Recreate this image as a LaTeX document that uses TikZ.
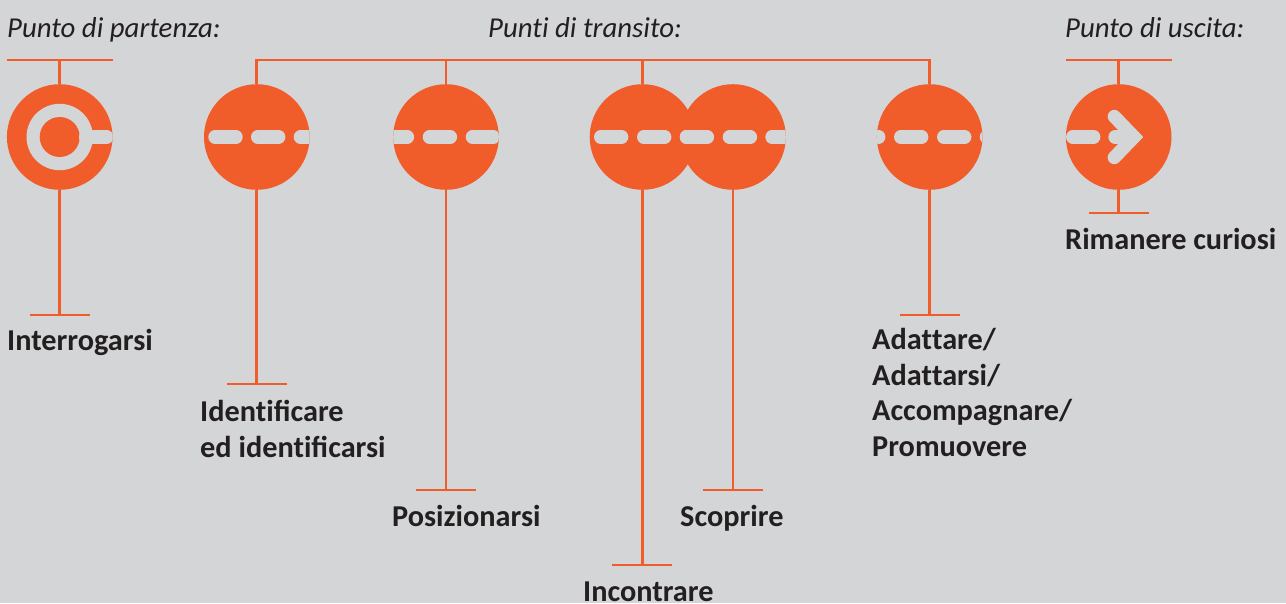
\documentclass[tikz,border=0pt]{standalone}
\usepackage{fontspec}
\setmainfont{Carlito}
\definecolor{bgc}{HTML}{D3D5D7}
\definecolor{org}{HTML}{F15D2A}
\definecolor{txt}{HTML}{231F20}
\newcommand{\nl}{\kern0pt }
\tikzset{
  disc/.style={circle,fill=org,minimum size=105.6pt,inner sep=0pt,outer sep=0pt},
  wire/.style={draw=org,line width=2.8pt},
  gap/.style={draw=bgc,line width=13.3pt,line cap=round},
  lab/.style={anchor=base west,inner sep=0pt,text=txt,font=\fontsize{30.3}{35.4}\selectfont\bfseries,align=left},
  head/.style={anchor=base west,inner sep=0pt,text=txt,font=\fontsize{28.8}{32}\selectfont\itshape}
}
\newcommand{\dashes}[2]{% node name, list of left ends
  \begin{scope}
    \clip (#1) circle (52.8pt);
    \foreach \x in {#2} \draw[gap] (\x+6.65,137) -- (\x+27.75,137);
  \end{scope}}
\begin{document}
\begin{tikzpicture}[x=1pt,y=-1pt]
\useasboundingbox (0,0) rectangle (1286,603);
\fill[bgc] (0,0) rectangle (1286,603);
% free ends
\coordinate (tA) at (59.7,60); \coordinate (bA) at (59.7,315);
\coordinate (tB) at (256.8,60); \coordinate (bB) at (256.8,384);
\coordinate (tC) at (446,60); \coordinate (bC) at (446,490);
\coordinate (tD) at (642.5,60); \coordinate (bD) at (642.5,565);
\coordinate (bE) at (733,490);
\coordinate (tF) at (929.7,60); \coordinate (bF) at (929.7,315);
\coordinate (tG) at (1118.7,60); \coordinate (bG) at (1118.7,213);
% discs
\node[disc] (A) at (59.7,137) {};
\node[disc] (B) at (256.8,137) {};
\node[disc] (C) at (446,137) {};
\node[disc] (D) at (642.5,137) {};
\node[disc] (E) at (733,137) {};
\node[disc] (F) at (929.7,137) {};
\node[disc] (G) at (1118.7,137) {};
% connectors
\draw[wire,line cap=rect] (tB) -- (tF);
\foreach \n in {A,B,C,D,F,G} \draw[wire] (t\n) -- (\n);
\foreach \n in {A,B,C,D,E,F,G} \draw[wire] (\n) -- (b\n);
\draw[wire] (7,60) -- (tA) -- (113,60);
\draw[wire] (1066,60) -- (tG) -- (1172,60);
\foreach \n/\l/\r in {A/30/90,B/227/287,C/416/476,D/612/672,E/703/763,F/900/960,G/1089/1149}
  \draw[wire] (\l,0 |- b\n) -- (\r,0 |- b\n);
% start symbol
\fill[bgc] (A) circle (33.2pt);
\fill[org] (A) circle (20pt);
\dashes{A}{79}
% dashes
\dashes{B}{208.3,251,293.7}
\dashes{C}{379.7,422.7,465.7}
\dashes{D}{594,637,679.7}
\dashes{E}{679.7,722.7,765.3}
\dashes{F}{851,894,937,979.7}
% exit symbol
\dashes{G}{1066}
\begin{scope}
  \draw[gap] (1115,137) -- (1134,137);
  \draw[gap,line join=miter] (1114.3,116.5) -- (1134,137) -- (1114.3,157.5);
\end{scope}
% headings
\node[head] (h1) at (7,37) {Punto di partenza:};
\node[head] (h2) at (488,37) {Punt\nl i di transito:};
\node[head] (h3) at (1065,37) {Punto di uscita:};
% labels
\node[lab] (l1) at (7,350) {Interrogarsi};
\node[lab] (l2) at (200,457) {Ident\nl ificare\\ed ident\nl ificarsi};
\node[lab] (l3) at (392,526) {Posizionarsi};
\node[lab] (l4) at (583,601) {Incontrare};
\node[lab] (l5) at (680,526) {Scoprire};
\node[lab] (l6) at (872,456) {Adat\nl tare/\\Adat\nl tarsi/\\Accompagnare/\\Promuovere};
\node[lab] (l7) at (1065,249.5) {Rimanere curiosi};
\end{tikzpicture}
\end{document}
